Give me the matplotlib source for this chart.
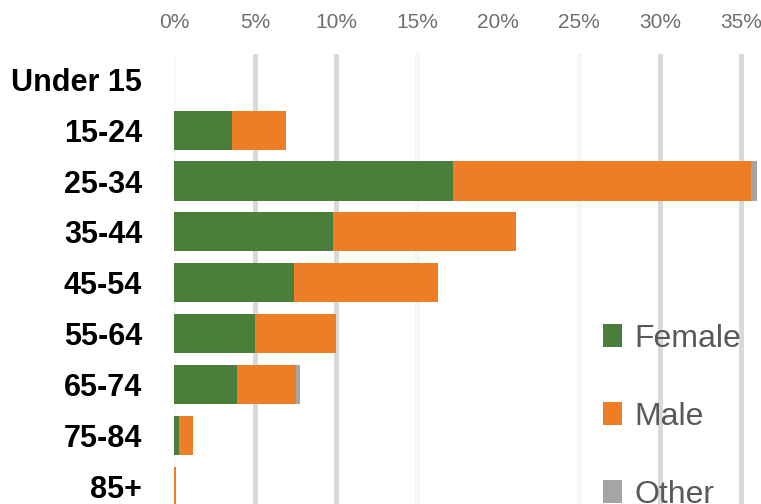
import matplotlib
matplotlib.use("Agg")
import matplotlib.pyplot as plt
from matplotlib.patches import Patch
import numpy as np

# Age groups and share of respondents (%) by gender
age_groups = ["Under 15", "15-24", "25-34", "35-44", "45-54",
              "55-64", "65-74", "75-84", "85+"]
female = [0.0, 3.6, 17.2, 9.8, 7.4, 5.0, 3.9, 0.3, 0.0]
male = [0.0, 3.3, 18.4, 11.3, 8.9, 5.0, 3.6, 0.86, 0.15]
other = [0.0, 0.0, 0.4, 0.0, 0.0, 0.0, 0.3, 0.0, 0.0]

x_ticks = [0, 5, 10, 15, 20, 25, 30, 35]
x_tick_labels = ["0%", "5%", "10%", "15%", "20%", "25%", "30%", "35%"]

series_names = ["Female", "Male", "Other"]
colors = ["#4B7E3A", "#ED7D27", "#A5A5A5"]
grid_shades = ["#FBFBFB", "#D9D9D9", "#D9D9D9", "#F6F6F6",
               "#FFFFFF", "#F6F6F6", "#D9D9D9", "#D9D9D9"]

fig = plt.figure(figsize=(7.61, 5.04), dpi=100)
ax_left = 174 / 761
ax = fig.add_axes([ax_left, -0.015, (174 + 37 * 16.2) / 761 - ax_left, 0.893 + 0.015])

y = np.arange(len(age_groups))
bar_h = 0.77
left = np.zeros(len(age_groups))
for vals, name, col in zip([female, male, other], series_names, colors):
    ax.barh(y, vals, left=left, height=bar_h, color=col, label=name, zorder=3)
    left = left + np.array(vals)

for xt, shade in zip(x_ticks, grid_shades):
    ax.axvline(xt, color=shade, lw=3.6, zorder=1)

ax.set_xlim(0, 37)
ax.set_ylim(8.5, -0.5)
ax.set_yticks(y)
ax.set_yticklabels(age_groups, fontsize=22, fontweight="bold",
                   family="Liberation Sans", color="black")
ax.xaxis.tick_top()
ax.set_xticks(x_ticks)
ax.set_xticklabels(x_tick_labels, fontsize=15, family="Liberation Sans",
                   color="#6E6E6E")
ax.tick_params(axis="y", length=0, pad=23)
ax.tick_params(axis="x", length=0, pad=16)
for s in ax.spines.values():
    s.set_visible(False)

handles = [Patch(facecolor=c, edgecolor="none") for c in colors]
leg = fig.legend(handles, series_names, loc="upper left",
                 bbox_to_anchor=(590 / 761, 1 - 311 / 504),
                 frameon=False, prop={"family": "Liberation Sans", "size": 23},
                 labelcolor="#595959", handlelength=0.6, handleheight=0.75,
                 handletextpad=0.4, labelspacing=1.5, borderaxespad=0)

fig.savefig("out.png", dpi=100)
